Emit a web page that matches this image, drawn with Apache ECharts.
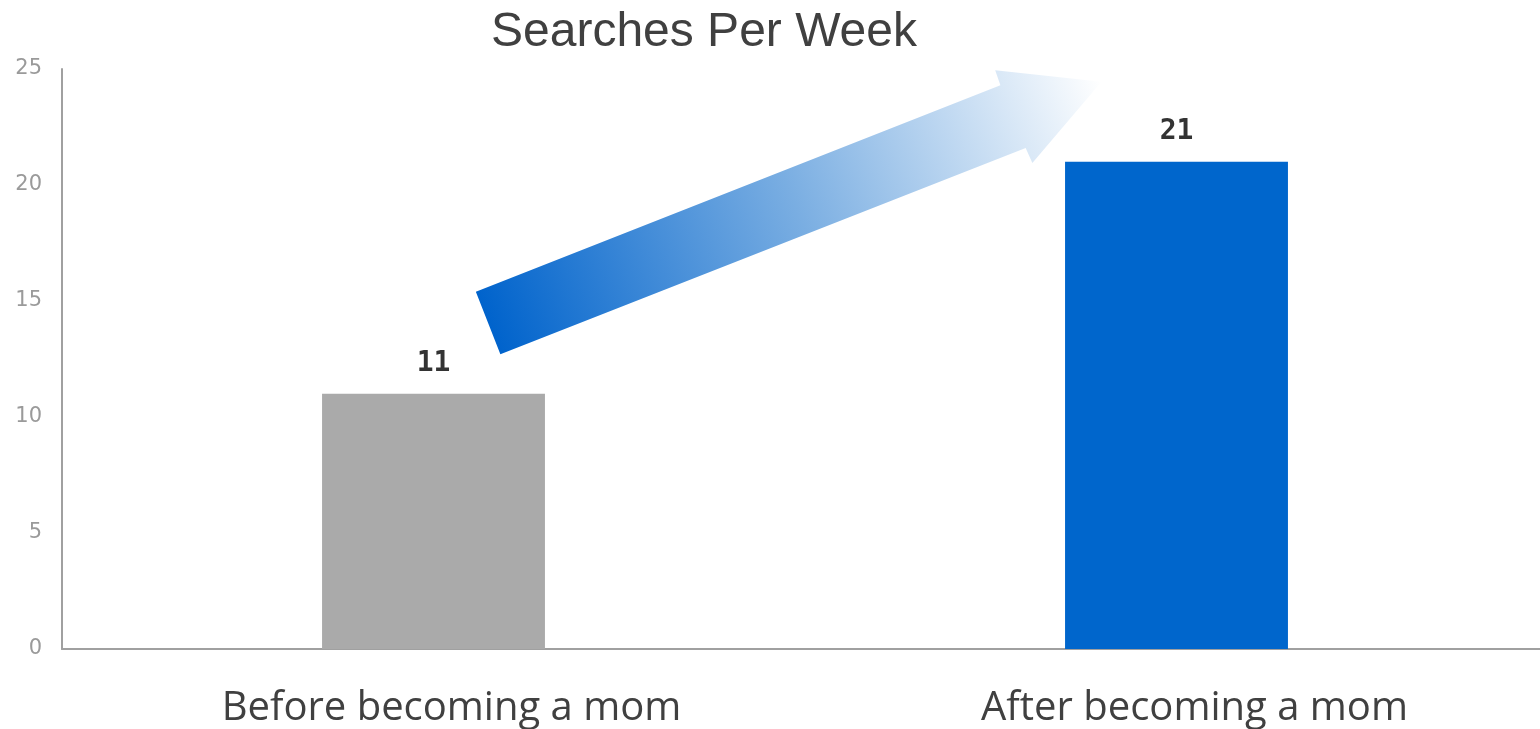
<!DOCTYPE html>
<html>
<head>
<meta charset="utf-8">
<script src="https://cdn.jsdelivr.net/npm/echarts@6/dist/echarts.min.js"></script>
<style>
  html, body { margin: 0; padding: 0; background: #fff; }
  #chart { width: 1540px; height: 729px; }
</style>
</head>
<body>
<div id="chart"></div>
<script>
  const categories = ['Before becoming a mom', 'After becoming a mom'];
  const searches = [11, 21];
  const barColors = ['#aaaaaa', '#0066cc'];

  // arrow outline: [fraction between the two bar centres, value on y axis]
  const arrowShape = [
    [0.057, 15.4], [0.763, 24.3], [0.756, 24.95], [0.899, 24.45],
    [0.806, 20.95], [0.797, 21.6], [0.09, 12.7]
  ];

  const chart = echarts.init(document.getElementById('chart'));

  const option = {
    animation: false,
    title: {
      text: 'Searches Per Week',
      left: 486,
      top: 4,
      textStyle: {
        fontFamily: 'Liberation Sans',
        fontSize: 48,
        fontWeight: 'normal',
        color: '#404040',
      },
    },
    grid: {
      left: 62,
      width: 1486,
      top: 69,
      bottom: 80,
      outerBoundsMode: 'none',
    },
    xAxis: {
      type: 'category',
      data: categories,
      axisTick: { show: false },
      axisLine: { lineStyle: { color: '#a0a0a0', width: 2 } },
      axisLabel: {
        margin: 40,
        padding: [0, 0, 0, 36],
        fontFamily: 'Open Sans',
        fontSize: 40,
        fontWeight: 500,
        color: '#404040',
      },
    },
    yAxis: {
      type: 'value',
      min: 0,
      max: 25,
      interval: 5,
      splitLine: { show: false },
      axisLine: { show: true, lineStyle: { color: '#a0a0a0', width: 2 } },
      axisLabel: {
        margin: 20,
        fontFamily: 'DejaVu Sans',
        fontSize: 21,
        color: '#9a9a9a',
      },
    },
    series: [
      {
        type: 'bar',
        barWidth: '30%',
        data: searches.map((v, i) => ({ value: v, itemStyle: { color: barColors[i] } })),
        label: {
          show: true,
          position: 'top',
          distance: 16,
          fontFamily: 'DejaVu Sans Mono',
          fontSize: 28,
          fontWeight: 'bold',
          color: '#333333',
        },
      },
    ],
  };

  chart.setOption(option);

  const p0 = chart.convertToPixel({ seriesIndex: 0 }, [0, 0]);
  const p1 = chart.convertToPixel({ seriesIndex: 0 }, [1, 0]);
  const points = arrowShape.map(([t, v]) => [
    p0[0] + t * (p1[0] - p0[0]),
    chart.convertToPixel({ yAxisIndex: 0 }, v),
  ]);
  const tail = [(points[0][0] + points[6][0]) / 2, (points[0][1] + points[6][1]) / 2];
  const tip = points[3];

  chart.setOption({
    graphic: [
      {
        type: 'polygon',
        shape: { points },
        style: {
          fill: new echarts.graphic.LinearGradient(tail[0], tail[1], tip[0], tip[1], [
            { offset: 0, color: '#0063cc' },
            { offset: 0.5, color: '#7aaee2' },
            { offset: 1, color: '#ffffff' },
          ], true),
        },
      },
    ],
  });
</script>
</body>
</html>
